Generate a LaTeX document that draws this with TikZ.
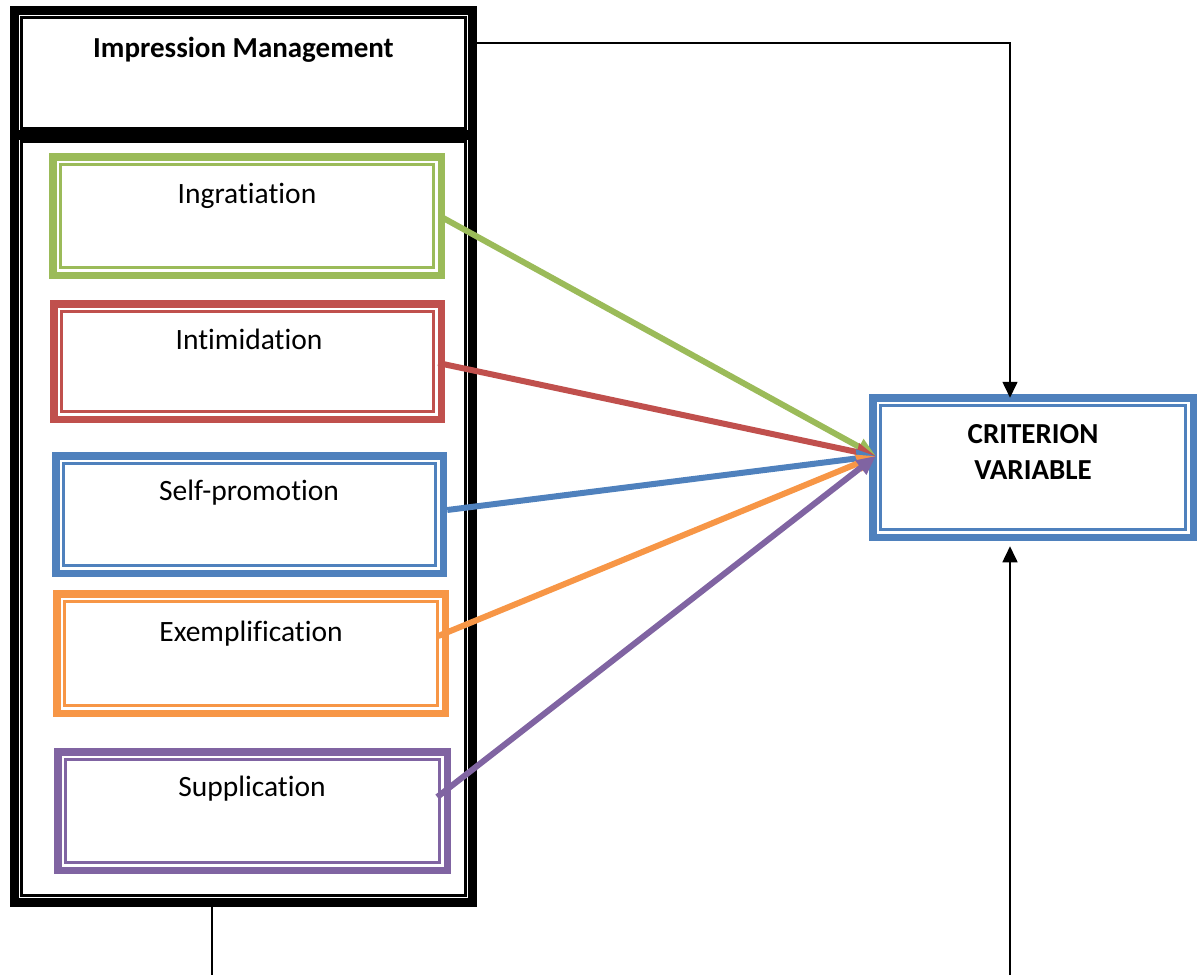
\documentclass[tikz,border=0pt]{standalone}
\usepackage{fontspec}
\setmainfont{Carlito}[Ligatures=NoCommon]
\usetikzlibrary{arrows.meta,calc}
\definecolor{cgreen}{HTML}{9BBB59}
\definecolor{cred}{HTML}{C0504D}
\definecolor{cblue}{HTML}{4F81BD}
\definecolor{corange}{HTML}{F79646}
\definecolor{cpurple}{HTML}{8064A2}
% name, colour, x1, y1, x2, y2, thick width
\newcommand\mybox[7]{%
  \node[draw=#2, line width=#7pt, inner sep=0pt, outer sep=0pt,
        minimum width={#5-#3-#7}, minimum height={#6-#4-#7}]
        (#1) at ({(#3+#5)/2},{(#4+#6)/2}) {};
  \draw[#2, line width=2.2pt]
    ([shift={({11.5-#7/2},{11.5-#7/2})}]#1.north west) rectangle
    ([shift={({-11.5+#7/2},{-11.5+#7/2})}]#1.south east);
}
\begin{document}
\begin{tikzpicture}[x=1pt,y=-1pt,
  lbl/.style={inner sep=0pt, font=\fontsize{29.5}{36}\selectfont},
  blbl/.style={inner sep=0pt, font=\fontsize{29}{36}\selectfont\bfseries},
  conn/.style={line width=1.6pt, draw=black},
  carrow/.style={line width=6pt, -{Triangle[length=19pt,width=17pt]}},
  karrow/.style={conn, -{Triangle[length=16pt,width=15pt]}}]
\useasboundingbox (0,0) rectangle (1197,975);

% outer framework
\mybox{imb}{black}{10}{130}{477}{907}{9}
\mybox{im}{black}{10}{6}{477}{140}{9}
\node[blbl, anchor=base] (imt) at (243.5,57) {Impression Management};

% strategy boxes
\mybox{g}{cgreen}{49}{153}{445}{279}{7.5}
\node[lbl, anchor=base] (gt) at (247,203) {Ingratiation};
\mybox{r}{cred}{50}{300}{445}{423}{7.5}
\node[lbl, anchor=base] (rt) at (249,349) {Intimidation};
\mybox{b}{cblue}{52}{452}{447}{577}{7.5}
\node[lbl, anchor=base] (bt) at (249,500) {Self-promotion};
\mybox{o}{corange}{53}{590}{449}{717}{7.5}
\node[lbl, anchor=base] (ot) at (251,641) {Exemplification};
\mybox{p}{cpurple}{54}{748}{451}{874}{7.5}
\node[lbl, anchor=base] (pt) at (252,796) {Supplication};

% criterion
\mybox{c}{cblue}{869}{394}{1197}{541}{7.5}
\node[blbl, align=center, anchor=north] (ct) at (1033,424.6) {CRITERION\\VARIABLE};

% coloured arrows
\coordinate (tip) at ($(c.west)+(3,-11.5)$);
\draw[carrow, cgreen]  ($(g.east)+(2,2)$) -- (tip);
\draw[carrow, cred]    ($(r.east)+(-3,1.5)$) -- (tip);
\draw[carrow, cblue]   ($(b.east)+(4,-4.5)$) -- (tip);
\draw[carrow, corange] ($(o.east)+(-7,-17.5)$) -- (tip);
\draw[carrow, cpurple] ($(p.east)+(-10,-14)$) -- (tip);

% black connectors
\coordinate (tc) at (1010,43);
\draw[karrow] (im.east |- tc) -- (tc) -- (tc |- c.north);
\coordinate (bl) at (212,975);
\draw[conn] (imb.south -| bl) -- (bl);
\coordinate (br) at (1010,975);
\draw[karrow] (br) -- ($(c.south -| br)+(0,9)$);
\end{tikzpicture}
\end{document}
